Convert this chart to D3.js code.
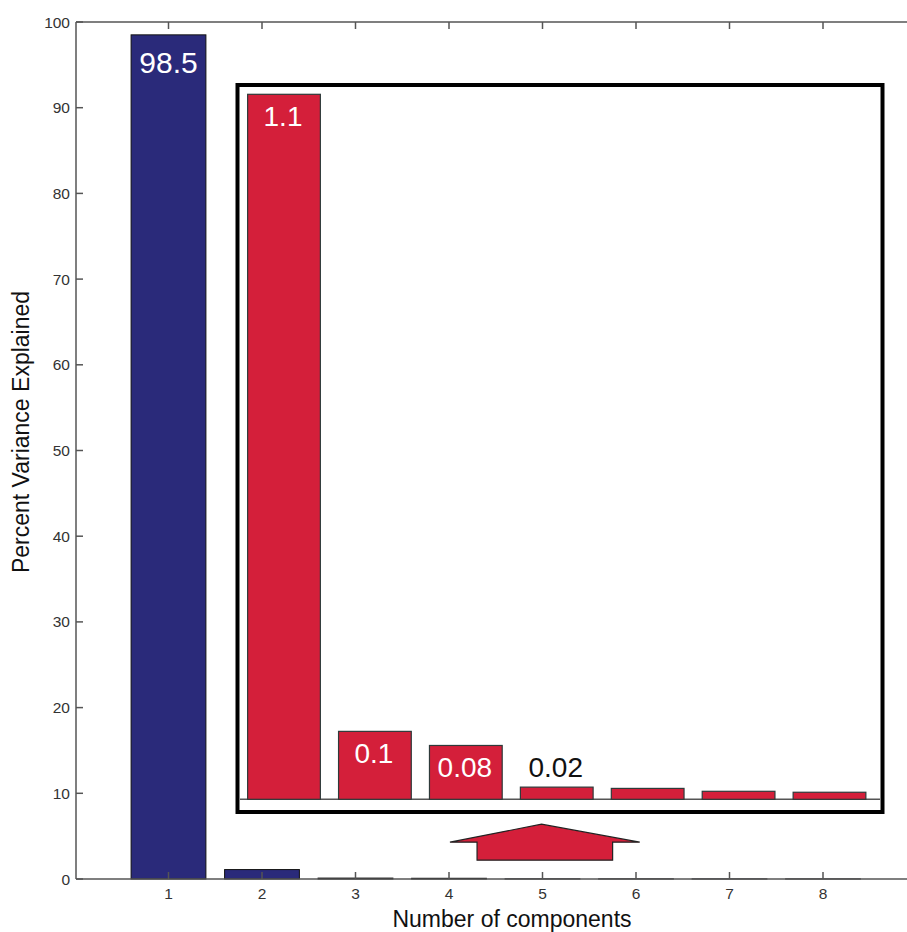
<!DOCTYPE html>
<html>
<head>
<meta charset="utf-8">
<script src="https://cdn.jsdelivr.net/npm/d3@7/dist/d3.min.js"></script>
<style>
  body { margin: 0; background: #fff; }
  svg { display: block; font-family: "Liberation Sans", Arial, sans-serif; }
</style>
</head>
<body>
<svg></svg>
<script>
// data
var components = [1, 2, 3, 4, 5, 6, 7, 8];
var variance = [98.5, 1.1, 0.106, 0.084, 0.019, 0.017, 0.0125, 0.011];
var valueLabels = ['98.5', '1.1', '0.1', '0.08', '0.02', '', '', ''];
var yTicks = [0, 10, 20, 30, 40, 50, 60, 70, 80, 90, 100];
var insetComponents = [2, 3, 4, 5, 6, 7, 8];
// arrow annotation, in [component, percent] units
var arrowShape = [[4.01, 4.3], [4.99, 6.4], [6.04, 4.3], [5.75, 4.3], [5.75, 2.2], [4.3, 2.2], [4.3, 4.3]];

var blue = '#2a2a7a', red = '#d41f3a', axisCol = '#555';

var svg = d3.select('svg').attr('width', 907).attr('height', 932);

var x = d3.scaleLinear().domain([0, 9]).range([75, 916.5]);
var y = d3.scaleLinear().domain([0, 100]).range([879, 22]);
var bw = (x(1) - x(0)) * 0.8;

// main bars
svg.selectAll('rect.main')
  .data(components)
  .enter()
  .append('rect')
  .attr('class', 'main')
  .attr('x', (d) => x(d) - bw / 2)
  .attr('y', (d, i) => y(variance[i]))
  .attr('width', bw)
  .attr('height', (d, i) => y(0) - y(variance[i]))
  .attr('fill', blue)
  .attr('stroke', '#111')
  .attr('stroke-width', 1);

// axes frame
svg.append('line').attr('x1', x(0) + 1).attr('x2', 907).attr('y1', y(0)).attr('y2', y(0))
  .attr('stroke', axisCol).attr('stroke-width', 1.5);
svg.append('line').attr('x1', x(0) + 1).attr('x2', 907).attr('y1', y(100)).attr('y2', y(100))
  .attr('stroke', axisCol).attr('stroke-width', 1.5);
svg.append('line').attr('x1', x(0) + 1).attr('x2', x(0) + 1).attr('y1', y(0)).attr('y2', y(100))
  .attr('stroke', axisCol).attr('stroke-width', 1.5);

// y ticks
var yt = svg.selectAll('g.yt').data(yTicks).enter().append('g').attr('class', 'yt');
yt.append('line')
  .attr('x1', x(0) + 1).attr('x2', x(0) + 8)
  .attr('y1', (d) => y(d)).attr('y2', (d) => y(d))
  .attr('stroke', axisCol).attr('stroke-width', 1.5);
yt.append('text')
  .text((d) => d)
  .attr('x', x(0) - 5)
  .attr('y', (d) => y(d) + 5.5)
  .attr('text-anchor', 'end')
  .attr('font-size', '15.5px')
  .attr('fill', '#333');

// x ticks, bottom and top
var xt = svg.selectAll('g.xt').data(components).enter().append('g').attr('class', 'xt');
xt.append('line')
  .attr('x1', (d) => x(d)).attr('x2', (d) => x(d))
  .attr('y1', y(0)).attr('y2', y(0) - 7)
  .attr('stroke', axisCol).attr('stroke-width', 1.5);
xt.append('line')
  .attr('x1', (d) => x(d)).attr('x2', (d) => x(d))
  .attr('y1', y(100)).attr('y2', y(100) + 7)
  .attr('stroke', axisCol).attr('stroke-width', 1.5);
xt.append('text')
  .text((d) => d)
  .attr('x', (d) => x(d))
  .attr('y', y(0) + 19.5)
  .attr('text-anchor', 'middle')
  .attr('font-size', '15.5px')
  .attr('fill', '#333');

// axis titles
svg.append('text')
  .text('Number of components')
  .attr('x', 512).attr('y', 927)
  .attr('text-anchor', 'middle')
  .attr('font-size', '23px')
  .attr('fill', '#111');
svg.append('text')
  .text('Percent Variance Explained')
  .attr('transform', 'translate(29,432) rotate(-90)')
  .attr('text-anchor', 'middle')
  .attr('font-size', '23px')
  .attr('fill', '#111');

// label of the first bar
svg.append('text')
  .text(valueLabels[0])
  .attr('x', x(1))
  .attr('y', y(variance[0]) + 38)
  .attr('text-anchor', 'middle')
  .attr('font-size', '30px')
  .attr('fill', '#fff');

// inset (zoom of components 2..8)
var inset = svg.append('g');
inset.append('rect')
  .attr('x', 237.5).attr('y', 85)
  .attr('width', 645).attr('height', 727)
  .attr('fill', '#fff')
  .attr('stroke', '#000')
  .attr('stroke-width', 4);

var ix = d3.scaleLinear().domain([2, 8]).range([284, 829.5]);
var iy = d3.scaleLinear().domain([0, 1.1]).range([799.3, 94.3]);
var ibw = (ix(3) - ix(2)) * 0.8;

inset.append('line')
  .attr('x1', 240).attr('x2', 880)
  .attr('y1', iy(0)).attr('y2', iy(0))
  .attr('stroke', axisCol).attr('stroke-width', 1.5);

var ig = inset.selectAll('g.ib')
  .data(insetComponents)
  .enter()
  .append('g')
  .attr('class', 'ib');
ig.append('rect')
  .attr('x', (d) => ix(d) - ibw / 2)
  .attr('y', (d) => iy(variance[d - 1]))
  .attr('width', ibw)
  .attr('height', (d) => iy(0) - iy(variance[d - 1]))
  .attr('fill', red)
  .attr('stroke', '#2e3a3a')
  .attr('stroke-width', 1.2);
ig.append('text')
  .text((d) => valueLabels[d - 1])
  .attr('x', (d) => ix(d) - 1)
  .attr('y', function (d) {
    var top = iy(variance[d - 1]);
    return (iy(0) - top > 40) ? top + 32 : top - 10;
  })
  .attr('text-anchor', 'middle')
  .attr('font-size', '28px')
  .attr('fill', (d) => (iy(0) - iy(variance[d - 1]) > 40) ? '#fff' : '#111');

// arrow pointing up at the small bars
svg.append('polygon')
  .attr('points', arrowShape.map((p) => x(p[0]) + ',' + y(p[1])).join(' '))
  .attr('fill', red)
  .attr('stroke', '#222')
  .attr('stroke-width', 1.2)
  .attr('stroke-linejoin', 'miter');
</script>
</body>
</html>
